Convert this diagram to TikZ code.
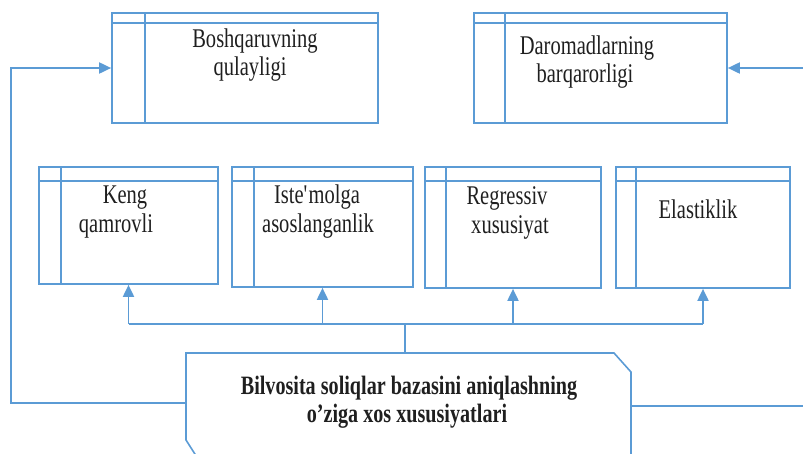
\documentclass[tikz,border=0pt]{standalone}
\usepackage{fontspec}
\setmainfont{Liberation Serif}[FakeStretch=0.76]
\usetikzlibrary{arrows.meta}
\definecolor{linec}{HTML}{5B9BD5}
\begin{document}
\begin{tikzpicture}[x=1pt,y=-1pt,
  frame/.style={draw=linec, line width=1.7pt, inner sep=0pt, rectangle},
  rule/.style={draw=linec, line width=1.6pt},
  conn/.style={draw=linec, line width=1.9pt},
  arr/.style={conn, -{Triangle[length=12pt,width=11pt]}},
  lbl/.style={anchor=base, inner sep=0pt, font=\fontsize{27}{28}\selectfont, text=black!88},
  blbl/.style={lbl, font=\fontsize{26.5}{28}\selectfont\bfseries}]
\useasboundingbox (0,0) rectangle (803,453);
\clip (0,0) rectangle (803,453);

% boxes with a header strip and a side strip
\newcommand{\strips}[3]{%
  \draw[rule] ([yshift=-#2pt]#1.north west) -- ([yshift=-#2pt]#1.north east);
  \draw[rule] ([xshift=#3pt]#1.north west) -- ([xshift=#3pt]#1.south west);}

\node[frame, minimum width=266, minimum height=110] (tl) at (245,68) {};
\strips{tl}{11}{34}
\node[frame, minimum width=253, minimum height=110] (tr) at (600.5,68) {};
\strips{tr}{11}{32}

\node[frame, minimum width=179, minimum height=117] (m1) at (128.5,225.5) {};
\strips{m1}{15}{23}
\node[frame, minimum width=181, minimum height=120] (m2) at (322.5,227) {};
\strips{m2}{15}{23}
\node[frame, minimum width=176, minimum height=121] (m3) at (513,227.5) {};
\strips{m3}{15}{22}
\node[frame, minimum width=174, minimum height=121] (m4) at (703,227.5) {};
\strips{m4}{15}{21}

% bottom box with cut corners
\node[inner sep=0pt, minimum width=445, minimum height=117] (bot) at (408.5,411.5) {};
\draw[rule] (200,462) -- (186,440) -- (186,353) -- (614,353) -- (631,372) -- (631,470);

% labels
\node[lbl] (tlA) at (255,47) {Boshqaruvning};
\node[lbl] (tlB) at (250,75) {qulayligi};
\node[lbl] (trA) at (587,54) {Daromadlarning};
\node[lbl] (trB) at (585,82) {barqarorligi};
\node[lbl] (m1A) at (125,203) {Keng};
\node[lbl] (m1B) at (116,232) {qamrovli};
\node[lbl] (m2A) at (317,203) {Iste\textquotesingle molga};
\node[lbl] (m2B) at (318,232) {asoslanganlik};
\node[lbl] (m3A) at (507,204) {Regressiv};
\node[lbl] (m3B) at (510,233) {xususiyat};
\node[lbl] (m4A) at (698,218) {Elastiklik};
\node[blbl] (bA) at (409,394) {Bilvosita soliqlar bazasini aniqlashning};
\node[blbl] (bB) at (407,422) {o’ziga xos xususiyatlari};

% connectors
\coordinate (jn) at (405,324);
\draw[conn] (bot.north -| jn) -- (jn);
\draw[conn] (m1.south |- jn) -- (m4.south |- jn);
\draw[arr] (m1.south |- jn) -- (m1.south);
\draw[arr] (m2.south |- jn) -- (m2.south);
\draw[arr] (m3.south |- jn) -- (m3.south);
\draw[arr] (m4.south |- jn) -- (m4.south);

\coordinate (lj) at (11,403);
\draw[arr] (bot.west |- lj) -- (lj) |- (tl.west);

\coordinate (rj) at (803,406);
\draw[conn] (bot.east |- rj) -- (rj);
\coordinate (rt) at (803,68);
\draw[arr] (rt) -- (tr.east);
\end{tikzpicture}
\end{document}
